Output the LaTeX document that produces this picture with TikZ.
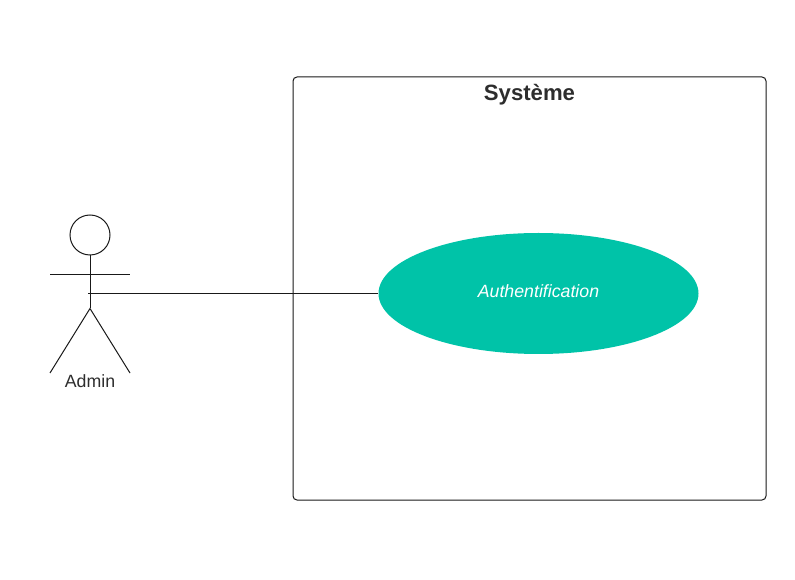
\documentclass[tikz,border=0pt]{standalone}
\usepackage{fontspec}
\setmainfont{Liberation Sans}
\usetikzlibrary{shapes.geometric}
\definecolor{usecasegreen}{RGB}{0,195,168}
\definecolor{inktext}{RGB}{45,45,45}
\tikzset{
  thinline/.style={draw=black!90,line width=0.75pt},
  actorlabel/.style={inner sep=0pt,text=inktext,font=\fontsize{13.3}{16}\selectfont},
}
\begin{document}
\begin{tikzpicture}[x=0.75pt,y=0.75pt,yscale=-1,xscale=1]
\useasboundingbox (0,0) rectangle (795,580);

%System box
\node (systembox) [thinline,rectangle,rounded corners=3pt,minimum width=354.75pt,minimum height=317.25pt,inner sep=0pt] at (529.5,288.5) {};
\node (systemtitle) [inner sep=0pt,text=inktext,font=\fontsize{16.6}{20}\selectfont\bfseries] at (529.5,94.5) {Système};

%Use case
\node (authcase) [ellipse,fill=usecasegreen,minimum width=240pt,minimum height=90.75pt,inner sep=0pt] at (538.5,293.5) {};
\node (authlabel) [inner sep=0pt,text=white,font=\fontsize{13.3}{16}\selectfont\itshape] at (538.5,291) {Authentification};

%Actor
\node (head) [thinline,circle,minimum size=30pt,inner sep=0pt] at (90,235) {};
\coordinate (armleft) at (50,274.5);
\coordinate (armright) at (130,274.5);
\coordinate (hip) at (90,308.5);
\coordinate (footleft) at (50,373);
\coordinate (footright) at (130,373);
\coordinate (linkstart) at (88,293.5);
\draw [thinline] (head.south) -- (hip);
\draw [thinline] (armleft) -- (armright);
\draw [thinline] (footleft) -- (hip) -- (footright);
\node (adminlabel) [actorlabel] at (90,381) {Admin};

%Association
\draw [thinline] (linkstart) -- (authcase.west);

\end{tikzpicture}
\end{document}
